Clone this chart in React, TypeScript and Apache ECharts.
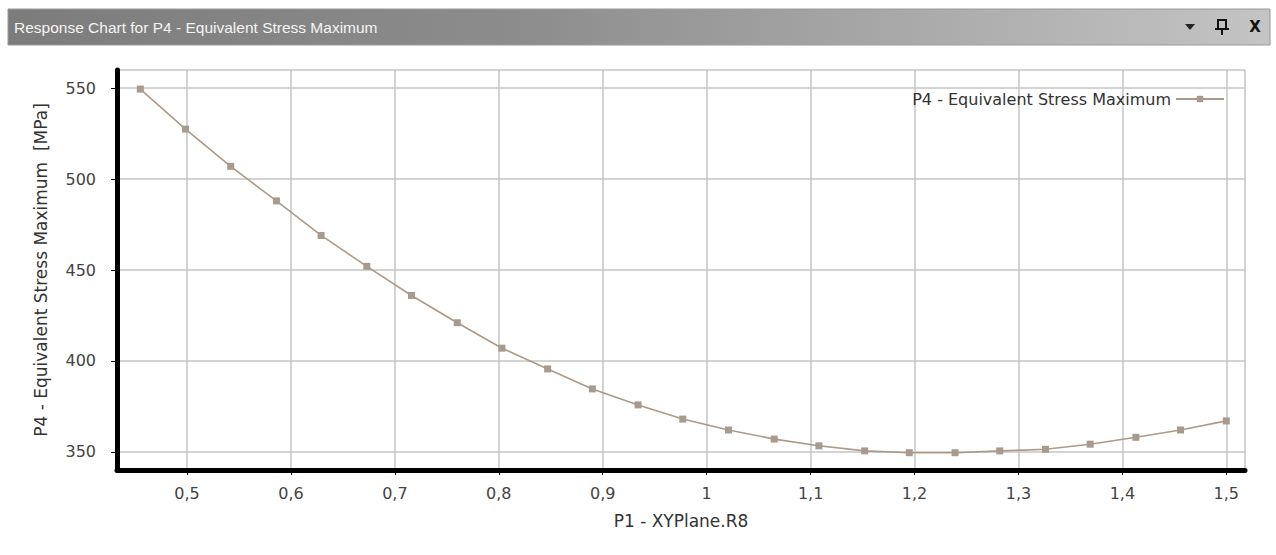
import React, { useEffect, useRef } from "react";
import * as echarts from "echarts";

const xValues = [
  0.455, 0.4985, 0.542, 0.586, 0.629, 0.673, 0.716, 0.76, 0.803, 0.847, 0.89,
  0.934, 0.977, 1.021, 1.065, 1.108, 1.152, 1.195, 1.239, 1.282, 1.326, 1.369,
  1.413, 1.456, 1.5,
];
const yValues = [
  549.5, 527.5, 507, 488, 469, 452, 436, 421, 407, 395.6, 384.6, 375.8, 368,
  362, 357, 353.3, 350.5, 349.5, 349.5, 350.5, 351.4, 354.2, 358, 362, 367,
];
const seriesName = "P4 - Equivalent Stress Maximum";
const xAxisName = "P1 - XYPlane.R8";
const yAxisName = "P4 - Equivalent Stress Maximum  [MPa]";
const titleText = "Response Chart for P4 - Equivalent Stress Maximum";

export default function App() {
  const ref = useRef<HTMLDivElement>(null);
  useEffect(() => {
    if (!ref.current) return;
    const chart = echarts.init(ref.current, undefined, { renderer: "svg" });
    const data = xValues.map((x, i) => [x, yValues[i]]);
    const labelFont = { fontFamily: "DejaVu Sans", fontSize: 16, color: "#444" };
    chart.setOption({
      animation: false,
      backgroundColor: "#ffffff",
      grid: { left: 117, top: 70, right: 31, bottom: 85 },
      legend: {
        right: 46,
        top: 86,
        align: "right",
        itemWidth: 48,
        itemHeight: 8,
        itemGap: 6,
        textStyle: { fontFamily: "DejaVu Sans", fontSize: 16, color: "#333" },
        data: [seriesName],
      },
      xAxis: {
        type: "value",
        min: 0.4326,
        max: 1.518,
        splitNumber: 10,
        name: xAxisName,
        nameLocation: "middle",
        nameGap: 42,
        nameTextStyle: { fontFamily: "DejaVu Sans", fontSize: 17, color: "#333" },
        axisLine: { show: true, onZero: false, lineStyle: { color: "#000", width: 5 } },
        axisTick: { show: true, length: 5, lineStyle: { color: "#000", width: 1 } },
        axisLabel: {
          ...labelFont,
          margin: 15,
          showMinLabel: false,
          showMaxLabel: false,
          formatter: (v: number) => String(Math.round(v * 10) / 10).replace(".", ","),
        },
        splitLine: { show: true, lineStyle: { color: "#c4c4c4", width: 1.5 } },
      },
      yAxis: {
        type: "value",
        min: 340,
        max: 560,
        name: yAxisName,
        nameLocation: "middle",
        nameGap: 68,
        nameTextStyle: { fontFamily: "DejaVu Sans", fontSize: 17, color: "#333" },
        axisLine: { show: true, onZero: false, lineStyle: { color: "#000", width: 5 } },
        axisTick: { show: true, length: 6, lineStyle: { color: "#000", width: 1 } },
        axisLabel: {
          ...labelFont,
          margin: 21,
          showMinLabel: false,
          showMaxLabel: false,
        },
        splitLine: { show: true, lineStyle: { color: "#c4c4c4", width: 1.5 } },
      },
      series: [
        {
          name: seriesName,
          type: "line",
          data,
          symbol: "rect",
          symbolSize: 7,
          showSymbol: true,
          lineStyle: { color: "#ac9a88", width: 1.6 },
          itemStyle: { color: "#a89a8c" },
        },
      ],
      graphic: [
        {
          type: "rect",
          shape: { x: 8, y: 9, width: 1262, height: 36 },
          style: {
            fill: new echarts.graphic.LinearGradient(0, 0, 1, 0, [
              { offset: 0, color: "#7c7c7c" },
              { offset: 0.4, color: "#8c8c8c" },
              { offset: 1, color: "#c4c4c4" },
            ]),
            stroke: "#9a9a9a",
            lineWidth: 1,
          },
        },
        {
          type: "text",
          x: 14,
          y: 27,
          style: {
            text: titleText,
            fontFamily: "Liberation Sans",
            fontSize: 15.5,
            fill: "#f4f4f4",
            verticalAlign: "middle",
          },
        },
        {
          type: "polygon",
          shape: { points: [[1185, 24], [1195, 24], [1190, 30]] },
          style: { fill: "#222" },
        },
        {
          type: "rect",
          shape: { x: 1218, y: 20, width: 8, height: 9 },
          style: { fill: "none", stroke: "#111", lineWidth: 2 },
        },
        {
          type: "line",
          shape: { x1: 1215, y1: 29, x2: 1229, y2: 29 },
          style: { stroke: "#111", lineWidth: 2 },
        },
        {
          type: "line",
          shape: { x1: 1222, y1: 29, x2: 1222, y2: 35 },
          style: { stroke: "#111", lineWidth: 2 },
        },
        {
          type: "text",
          x: 1255,
          y: 27,
          style: {
            text: "X",
            fontFamily: "DejaVu Sans",
            fontWeight: "bold",
            fontSize: 15,
            fill: "#111",
            align: "center",
            verticalAlign: "middle",
          },
        },
      ],
    });
    return () => chart.dispose();
  }, []);
  return (
    <div
      ref={ref}
      style={{ position: "fixed", left: 0, top: 0, width: 1276, height: 555 }}
    />
  );
}
